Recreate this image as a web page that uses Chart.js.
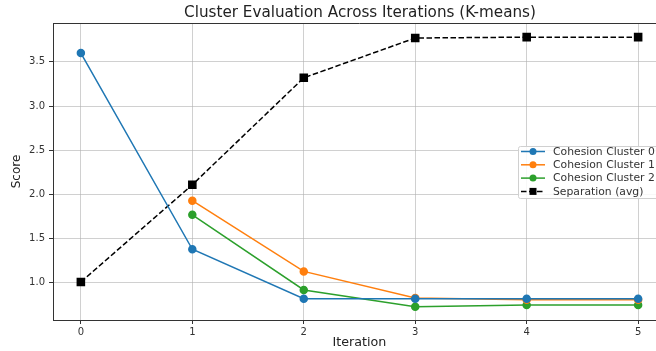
<!DOCTYPE html>
<html>
<head>
<meta charset="utf-8">
<script src="https://cdn.jsdelivr.net/npm/chart.js@4/dist/chart.umd.min.js"></script>
<style>
  html, body { margin: 0; padding: 0; background: #fff; overflow: hidden; }
  #wrap { width: 720px; height: 351px; }
</style>
</head>
<body>
<div id="wrap"><canvas id="myChart" width="720" height="351"></canvas></div>
<script>
// values
var iterations = [0, 1, 2, 3, 4, 5];
var cluster0 = [3.60, 1.38, 0.82, 0.82, 0.82, 0.82];
var cluster1 = [null, 1.93, 1.13, 0.83, 0.81, 0.81];
var cluster2 = [null, 1.77, 0.92, 0.73, 0.75, 0.75];
var separation = [1.01, 2.11, 3.32, 3.77, 3.78, 3.78];
var yTicks = [1.0, 1.5, 2.0, 2.5, 3.0, 3.5];

function pts(vals) {
    return iterations.map(function (x, i) { return { x: x, y: vals[i] }; });
}

var font = "'DejaVu Sans', sans-serif";

// legend drawn inside the plot like matplotlib does
var boxLegend = {
    id: 'boxLegend',
    afterDraw: function (chart) {
        var ctx = chart.ctx;
        var area = chart.chartArea;
        // top frame line
        ctx.save();
        ctx.strokeStyle = '#333';
        ctx.lineWidth = 1;
        ctx.beginPath();
        ctx.moveTo(area.left, area.top + 0.5);
        ctx.lineTo(area.right, area.top + 0.5);
        ctx.stroke();

        var x0 = 518, y0 = 146, w = 150, h = 52;
        ctx.fillStyle = 'rgba(255,255,255,0.85)';
        ctx.strokeStyle = '#d0d0d0';
        ctx.beginPath();
        ctx.roundRect(x0 + 0.5, y0 + 0.5, w, h, 2);
        ctx.fill();
        ctx.stroke();

        ctx.font = '10.8px ' + font;
        ctx.textBaseline = 'middle';
        chart.data.datasets.forEach(function (ds, i) {
            var y = 151.5 + i * 13.3;
            ctx.strokeStyle = ds.borderColor;
            ctx.lineWidth = 1.5;
            ctx.setLineDash(ds.borderDash || []);
            ctx.beginPath();
            ctx.moveTo(521, y);
            ctx.lineTo(545, y);
            ctx.stroke();
            ctx.setLineDash([]);
            ctx.fillStyle = ds.backgroundColor;
            if (ds.pointStyle === 'rect') {
                ctx.fillRect(529.5, y - 3.5, 7, 7);
            } else {
                ctx.beginPath();
                ctx.arc(533, y, 3.5, 0, Math.PI * 2);
                ctx.fill();
            }
            ctx.fillStyle = '#333';
            ctx.fillText(ds.label, 553, y + 0.5);
        });
        ctx.restore();
    }
};

const chart = new Chart("myChart", {
    type: "line",
    data: {
        datasets: [{
            label: "Cohesion Cluster 0",
            data: pts(cluster0),
            borderColor: "#1f77b4",
            backgroundColor: "#1f77b4",
            borderWidth: 1.5,
            pointStyle: 'circle',
            pointRadius: 3.5
        }, {
            label: "Cohesion Cluster 1",
            data: pts(cluster1),
            borderColor: "#ff7f0e",
            backgroundColor: "#ff7f0e",
            borderWidth: 1.5,
            pointStyle: 'circle',
            pointRadius: 3.5
        }, {
            label: "Cohesion Cluster 2",
            data: pts(cluster2),
            borderColor: "#2ca02c",
            backgroundColor: "#2ca02c",
            borderWidth: 1.5,
            pointStyle: 'circle',
            pointRadius: 3.5
        }, {
            label: "Separation (avg)",
            data: pts(separation),
            borderColor: "#000",
            backgroundColor: "#000",
            borderWidth: 1.5,
            borderDash: [5.5, 2.5],
            pointStyle: 'rect',
            pointRadius: 5
        }]
    },
    options: {
        responsive: false,
        animation: false,
        layout: { padding: 0 },
        elements: { point: { borderWidth: 0, hoverRadius: 4 }, line: { tension: 0 } },
        plugins: {
            legend: { display: false },
            tooltip: { enabled: false },
            title: {
                display: true,
                text: "Cluster Evaluation Across Iterations (K-means)",
                color: '#222',
                font: { family: font, size: 15.2, weight: 'normal', lineHeight: 1.2 },
                padding: { top: 4, bottom: 0.76 }
            }
        },
        scales: {
            x: {
                type: 'linear',
                min: -0.25,
                max: 5.25,
                afterBuildTicks: function (s) { s.ticks = iterations.map(function (v) { return { value: v }; }); },
                afterFit: function (s) { s.height = 31; },
                ticks: { color: '#333', font: { family: font, size: 10 }, padding: 2,
                         callback: function (v) { return String(v); } },
                grid: { color: 'rgba(176,176,176,0.6)', tickColor: '#333', tickLength: 4, lineWidth: 1 },
                border: { color: '#333', width: 1 },
                title: { display: true, text: 'Iteration', color: '#222',
                         font: { family: font, size: 12.7 }, padding: { top: 0, bottom: 0.5 } }
            },
            y: {
                min: 0.58,
                max: 3.94,
                afterBuildTicks: function (s) { s.ticks = yTicks.map(function (v) { return { value: v }; }); },
                afterFit: function (s) { s.width = 53; },
                ticks: { color: '#333', font: { family: font, size: 10 }, padding: 4,
                         callback: function (v) { return v.toFixed(1); } },
                grid: { color: 'rgba(176,176,176,0.6)', tickColor: '#333', tickLength: 4, lineWidth: 1 },
                border: { color: '#333', width: 1 },
                title: { display: true, text: 'Score', color: '#222',
                         font: { family: font, size: 12 }, padding: { top: 10, bottom: 0 } }
            },
            // empty right-hand strip so the plot runs past the window edge
            yRight: {
                position: 'right',
                afterFit: function (s) { s.width = 54; },
                ticks: { display: false },
                grid: { display: false },
                border: { display: false }
            }
        }
    },
    plugins: [boxLegend]
});
</script>
</body>
</html>
